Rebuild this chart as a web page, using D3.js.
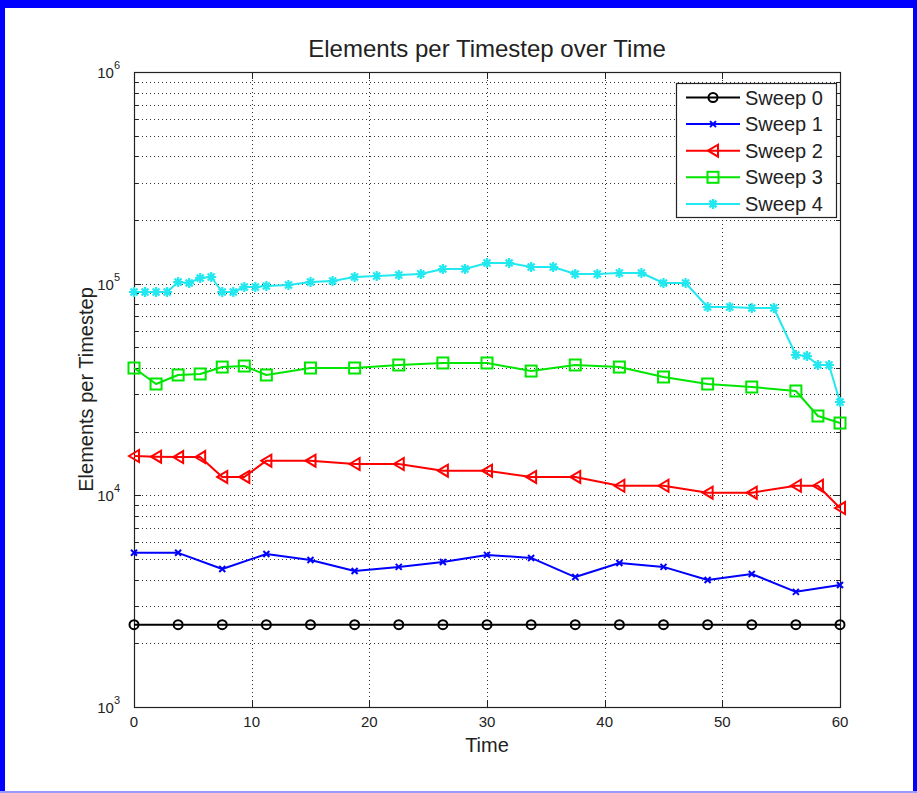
<!DOCTYPE html>
<html>
<head>
<meta charset="utf-8">
<script src="https://cdn.jsdelivr.net/npm/d3@7"></script>
<style>
  body { margin: 0; background: #fff; }
  svg text { font-family: "Liberation Sans", Arial, sans-serif; fill: #222; }
</style>
</head>
<body>
<script>
// time samples for each sweep
const time0 = [0, 3.75, 7.5, 11.25, 15, 18.75, 22.5, 26.25, 30, 33.75, 37.5, 41.25, 45, 48.75, 52.5, 56.25, 60];
const time2 = [0, 1.875, 3.75, 5.625, 7.5, 9.375, 11.25, 15, 18.75, 22.5, 26.25, 30, 33.75, 37.5, 41.25, 45, 48.75, 52.5, 56.25, 58.125, 60];
const time4 = [0, 0.9375, 1.875, 2.8125, 3.75, 4.6875, 5.625, 6.5625, 7.5, 8.4375, 9.375, 10.3125, 11.25,
  13.125, 15, 16.875, 18.75, 20.625, 22.5, 24.375, 26.25, 28.125, 30, 31.875, 33.75, 35.625, 37.5, 39.375,
  41.25, 43.125, 45, 46.875, 48.75, 50.625, 52.5, 54.375, 56.25, 57.1875, 58.125, 59.0625, 60];

// elements per timestep
const sweep0 = [2450, 2450, 2450, 2450, 2450, 2450, 2450, 2450, 2450, 2450, 2450, 2450, 2450, 2450, 2450, 2450, 2450];
const sweep1 = [5350, 5350, 4490, 5280, 4950, 4390, 4590, 4840, 5230, 5060, 4110, 4790, 4590, 3980, 4250, 3500, 3770];
const sweep2 = [15340, 15230, 15170, 15170, 12210, 12210, 14580, 14580, 14060, 14060, 13070, 13070, 12210, 12210,
  11100, 11100, 10290, 10290, 11100, 11100, 8710];
const sweep3 = [39950, 33570, 37030, 37440, 40370, 40820, 37030, 39950, 39950, 41280, 42200, 42200, 38650, 41280,
  40370, 36230, 33570, 32490, 31110, 23700, 21960];
const sweep4 = [91340, 91340, 91340, 91340, 101800, 100700, 106400, 107500, 91340, 91340, 96430, 96430, 97490,
  98560, 101800, 102900, 107500, 108700, 109900, 111100, 117300, 117300, 125200, 125200, 119900, 119900,
  111100, 111100, 112300, 112300, 100700, 100700, 77580, 77580, 76740, 76740, 46030, 45500, 41280, 41280, 27600];

const seriesNames = ['Sweep 0', 'Sweep 1', 'Sweep 2', 'Sweep 3', 'Sweep 4'];
const xTicks = [0, 10, 20, 30, 40, 50, 60];
const yDecades = [1e3, 1e4, 1e5, 1e6];

const series = [
  { name: seriesNames[0], t: time0, v: sweep0, color: '#000000', marker: 'circle' },
  { name: seriesNames[1], t: time0, v: sweep1, color: '#0000ff', marker: 'x' },
  { name: seriesNames[2], t: time2, v: sweep2, color: '#ff0000', marker: 'tri' },
  { name: seriesNames[3], t: time2, v: sweep3, color: '#00e600', marker: 'square' },
  { name: seriesNames[4], t: time4, v: sweep4, color: '#22e8f0', marker: 'star' }
];

const W = 917, H = 793;
const pLeft = 134, pRight = 840, pTop = 72, pBottom = 707;

const svg = d3.select('body').append('svg')
  .attr('width', W)
  .attr('height', H);

// figure frame
svg.append('rect').attr('x', 0).attr('y', 0).attr('width', W).attr('height', 8).attr('fill', '#0000ff');
svg.append('rect').attr('x', 0).attr('y', 0).attr('width', 5).attr('height', H).attr('fill', '#0000ff');
svg.append('rect').attr('x', W - 4).attr('y', 0).attr('width', 4).attr('height', H).attr('fill', '#0000ff');
svg.append('rect').attr('x', 0).attr('y', H - 2).attr('width', W).attr('height', 2).attr('fill', '#9999ff');

const x = d3.scaleLinear().domain([0, 60]).range([pLeft, pRight]);
const y = d3.scaleLog().domain([1e3, 1e6]).range([pBottom, pTop]);

// grid
const minor = [];
[1e3, 1e4, 1e5].forEach(d => { for (let k = 2; k <= 9; k++) minor.push(d * k); });
const grid = svg.append('g').attr('stroke', '#333').attr('stroke-width', 1).attr('stroke-dasharray', '1,3');
grid.selectAll('.hg').data(minor.concat([1e4, 1e5]))
  .enter().append('line')
  .attr('x1', pLeft).attr('x2', pRight)
  .attr('y1', d => Math.round(y(d)) + 0.5).attr('y2', d => Math.round(y(d)) + 0.5);
grid.selectAll('.vg').data(xTicks.slice(1, -1))
  .enter().append('line')
  .attr('x1', d => Math.round(x(d)) + 0.5).attr('x2', d => Math.round(x(d)) + 0.5)
  .attr('y1', pTop).attr('y2', pBottom);

// ticks (inside, both sides)
const ticks = svg.append('g').attr('stroke', '#222').attr('stroke-width', 1);
yDecades.forEach(d => {
  const yy = Math.round(y(d)) + 0.5;
  ticks.append('line').attr('x1', pLeft).attr('x2', pLeft + 7).attr('y1', yy).attr('y2', yy);
  ticks.append('line').attr('x1', pRight - 7).attr('x2', pRight).attr('y1', yy).attr('y2', yy);
});
minor.forEach(d => {
  const yy = Math.round(y(d)) + 0.5;
  ticks.append('line').attr('x1', pLeft).attr('x2', pLeft + 4).attr('y1', yy).attr('y2', yy);
  ticks.append('line').attr('x1', pRight - 4).attr('x2', pRight).attr('y1', yy).attr('y2', yy);
});
xTicks.forEach(d => {
  const xx = Math.round(x(d)) + 0.5;
  ticks.append('line').attr('x1', xx).attr('x2', xx).attr('y1', pBottom).attr('y2', pBottom - 7);
  ticks.append('line').attr('x1', xx).attr('x2', xx).attr('y1', pTop).attr('y2', pTop + 7);
});

// axes box
svg.append('rect')
  .attr('x', pLeft + 0.5).attr('y', pTop + 0.5)
  .attr('width', pRight - pLeft).attr('height', pBottom - pTop)
  .attr('fill', 'none').attr('stroke', '#222').attr('stroke-width', 1.2);

// tick labels
svg.append('g').selectAll('text').data(xTicks)
  .enter().append('text')
  .attr('x', d => x(d)).attr('y', pBottom + 20)
  .attr('text-anchor', 'middle').attr('font-size', 15)
  .text(d => d);

const yl = svg.append('g').selectAll('text').data(yDecades)
  .enter().append('text')
  .attr('x', pLeft - 14).attr('y', d => y(d) + 6)
  .attr('text-anchor', 'end').attr('font-size', 15);
yl.append('tspan').text('10');
yl.append('tspan').attr('dy', -9).attr('font-size', 11).text(d => Math.round(Math.log10(d)));

// titles
svg.append('text').attr('x', (pLeft + pRight) / 2).attr('y', 57)
  .attr('text-anchor', 'middle').attr('font-size', 24).text('Elements per Timestep over Time');
svg.append('text').attr('x', (pLeft + pRight) / 2).attr('y', 752)
  .attr('text-anchor', 'middle').attr('font-size', 20).text('Time');
svg.append('text')
  .attr('transform', `translate(93,${(pTop + pBottom) / 2}) rotate(-90)`)
  .attr('text-anchor', 'middle').attr('font-size', 20).text('Elements per Timestep');

// marker drawing
function drawMarker(g, type, color) {
  if (type === 'circle') {
    g.append('circle').attr('r', 4.5).attr('fill', 'none').attr('stroke', color).attr('stroke-width', 2);
  } else if (type === 'x') {
    g.append('path').attr('d', 'M-3,-3L3,3M-3,3L3,-3').attr('stroke', color).attr('stroke-width', 2);
  } else if (type === 'tri') {
    g.append('path').attr('d', 'M-5,0L5,-6L5,6Z').attr('fill', 'none').attr('stroke', color).attr('stroke-width', 2);
  } else if (type === 'square') {
    g.append('rect').attr('x', -5.5).attr('y', -5.5).attr('width', 11).attr('height', 11)
      .attr('fill', 'none').attr('stroke', color).attr('stroke-width', 2);
  } else if (type === 'star') {
    g.append('path').attr('d', 'M-5,0L5,0M0,-5L0,5M-3.5,-3.5L3.5,3.5M-3.5,3.5L3.5,-3.5')
      .attr('stroke', color).attr('stroke-width', 2.2);
  }
}

const line = d3.line().x(d => x(d[0])).y(d => y(d[1]));

const plot = svg.append('g');
series.forEach(s => {
  const pts = s.t.map((t, i) => [t, s.v[i]]);
  plot.append('path').datum(pts)
    .attr('d', line)
    .attr('fill', 'none').attr('stroke', s.color).attr('stroke-width', 2)
    .attr('stroke-linejoin', 'round');
  pts.forEach(p => {
    const g = plot.append('g').attr('transform', `translate(${x(p[0])},${y(p[1])})`);
    drawMarker(g, s.marker, s.color);
  });
});

// legend
const lg = svg.append('g');
lg.append('rect').attr('x', 676.5).attr('y', 83.5).attr('width', 160).attr('height', 134)
  .attr('fill', '#fff').attr('stroke', '#222').attr('stroke-width', 1.2);
series.forEach((s, i) => {
  const yy = 97.5 + i * 26.6;
  lg.append('line').attr('x1', 686).attr('x2', 740).attr('y1', yy).attr('y2', yy)
    .attr('stroke', s.color).attr('stroke-width', 2);
  const g = lg.append('g').attr('transform', `translate(713,${yy})`);
  drawMarker(g, s.marker, s.color);
  lg.append('text').attr('x', 745).attr('y', yy + 7).attr('font-size', 20).text(s.name);
});
</script>
</body>
</html>
